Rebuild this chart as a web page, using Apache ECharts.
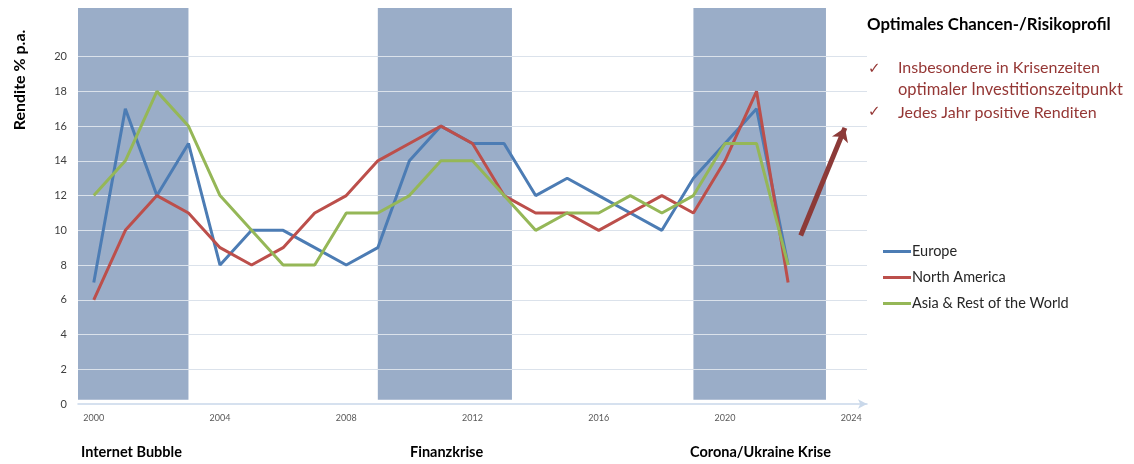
<!DOCTYPE html>
<html>
<head>
<meta charset="utf-8">
<script src="https://cdn.jsdelivr.net/npm/echarts@6/dist/echarts.min.js"></script>
<style>
  html, body { margin: 0; padding: 0; background: #fff; }
  #chart { width: 1134px; height: 464px; }
</style>
</head>
<body>
<div id="chart"></div>
<script>
// values
const years = [2000, 2001, 2002, 2003, 2004, 2005, 2006, 2007, 2008, 2009, 2010, 2011,
  2012, 2013, 2014, 2015, 2016, 2017, 2018, 2019, 2020, 2021, 2022]
const europe = [7, 17, 12, 15, 8, 10, 10, 9, 8, 9, 14, 16, 15, 15, 12, 13, 12, 11, 10, 13, 15, 17, 8]
const northAmerica = [6, 10, 12, 11, 9, 8, 9, 11, 12, 14, 15, 16, 15, 12, 11, 11, 10, 11, 12, 11, 14, 18, 7]
const asiaRest = [12, 14, 18, 16, 12, 10, 8, 8, 11, 11, 12, 14, 14, 12, 10, 11, 11, 12, 11, 12, 15, 15, 8]

const yearTicks = [2000, 2004, 2008, 2012, 2016, 2020, 2024]
const valueTicks = [0, 2, 4, 6, 8, 10, 12, 14, 16, 18, 20]

// crisis periods (shaded) and their captions
const crisisBands = [[1999.5, 2003], [2009, 2013.25], [2019, 2023.2]]
const crisisLabels = ['Internet Bubble', 'Finanzkrise', 'Corona/Ukraine Krise']
const trendArrow = [[2022.4, 9.7], [2023.8, 15.9]]

const FONT = 'Lato, "Open Sans", sans-serif'
const RED_TEXT = '#953735'
const Y_TOP = 22.8

const chart = echarts.init(document.getElementById('chart'))

const toPairs = vals => years.map((y, i) => [y, vals[i]])
const lineSeries = (name, vals, color) => ({
  name,
  type: 'line',
  data: toPairs(vals),
  showSymbol: false,
  symbol: 'none',
  lineStyle: { width: 3, color },
  itemStyle: { color },
  z: 3,
})

chart.setOption({
  animation: false,
  textStyle: { fontFamily: FONT },
  grid: { left: 78, right: 267, top: 8, bottom: 60 },
  legend: {
    orient: 'vertical',
    left: 878,
    top: 239,
    itemGap: 11,
    itemWidth: 28,
    itemHeight: 3,
    icon: 'rect',
    data: ['Europe', 'North America', 'Asia & Rest of the World'],
    textStyle: { fontSize: 14.5, color: '#262626', fontFamily: FONT, padding: [0, 0, 0, -4] },
  },
  xAxis: {
    type: 'value',
    min: 1999.5,
    max: 2024.5,
    axisLine: { show: true, symbol: ['none', 'arrow'], symbolSize: [7, 9], lineStyle: { color: '#c9d8ea', width: 1.5 } },
    axisTick: { show: false },
    splitLine: { show: false },
    axisLabel: { customValues: yearTicks, fontSize: 9, color: '#595959', margin: 10, formatter: v => String(v) },
  },
  yAxis: {
    type: 'value',
    min: 0,
    max: Y_TOP,
    interval: 2,
    axisLine: { show: false },
    axisTick: { show: false },
    splitLine: { show: false },
    axisLabel: {
      fontSize: 11,
      color: '#404040',
      margin: 11,
      formatter: v => (valueTicks.includes(v) ? String(v) : ''),
    },
  },
  series: [
    {
      name: 'bands',
      type: 'line',
      data: [],
      silent: true,
      markArea: {
        silent: true,
        z: 0,
        itemStyle: { color: '#9aadc8' },
        data: crisisBands.map(([a, b]) => [{ xAxis: a, yAxis: 0.25 }, { xAxis: b, yAxis: Y_TOP }]),
      },
      markLine: {
        silent: true,
        z: 1,
        symbol: 'none',
        label: { show: false },
        lineStyle: { color: '#dbe2eb', width: 1.2, type: 'solid' },
        data: valueTicks.filter(v => v > 0).map(v => ({ yAxis: v })),
      },
    },
    lineSeries('Europe', europe, '#4c7cb4'),
    lineSeries('North America', northAmerica, '#bc4f4b'),
    lineSeries('Asia & Rest of the World', asiaRest, '#95b757'),
    {
      name: 'trend',
      type: 'line',
      data: [],
      silent: true,
      markLine: {
        silent: true,
        z: 4,
        symbol: ['none', 'arrow'],
        symbolSize: 13,
        label: { show: false },
        lineStyle: { color: '#8c3a38', width: 5, type: 'solid' },
        data: [[{ coord: trendArrow[0] }, { coord: trendArrow[1] }]],
      },
    },
  ],
  graphic: [
    {
      type: 'text', x: 20, y: 80, rotation: Math.PI / 2,
      style: { text: 'Rendite % p.a.', font: 'bold 16px ' + FONT, fill: '#000', align: 'center', verticalAlign: 'middle' },
    },
    ...crisisLabels.map((t, i) => ({
      type: 'text', x: [81, 410, 690][i], y: 452,
      style: { text: t, font: 'bold 14.5px ' + FONT, fill: '#000', verticalAlign: 'middle' },
    })),
    {
      type: 'text', x: 867, y: 25,
      style: { text: 'Optimales Chancen-/Risikoprofil', font: 'bold 16.8px ' + FONT, fill: '#000', verticalAlign: 'middle' },
    },
    { type: 'text', x: 868, y: 69, style: { text: '✓', font: 'bold 15px "DejaVu Sans"', fill: RED_TEXT, verticalAlign: 'middle' } },
    { type: 'text', x: 868, y: 112, style: { text: '✓', font: 'bold 15px "DejaVu Sans"', fill: RED_TEXT, verticalAlign: 'middle' } },
    { type: 'text', x: 898, y: 68, style: { text: 'Insbesondere in Krisenzeiten', font: '16px ' + FONT, fill: RED_TEXT, verticalAlign: 'middle' } },
    { type: 'text', x: 898, y: 90, style: { text: 'optimaler Investitionszeitpunkt', font: '16.5px ' + FONT, fill: RED_TEXT, verticalAlign: 'middle' } },
    { type: 'text', x: 898, y: 113, style: { text: 'Jedes Jahr positive Renditen', font: '16px ' + FONT, fill: RED_TEXT, verticalAlign: 'middle' } },
  ],
})

window.addEventListener('resize', () => chart.resize())
</script>
</body>
</html>
